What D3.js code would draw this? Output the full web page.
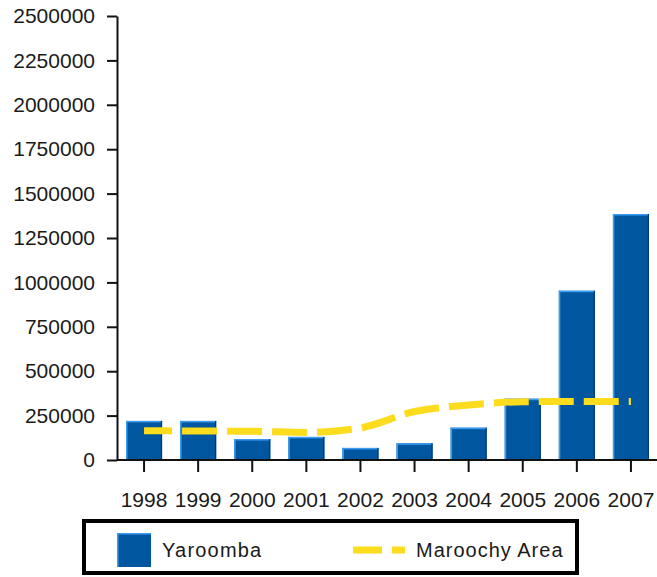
<!DOCTYPE html>
<html>
<head>
<meta charset="utf-8">
<script src="https://cdn.jsdelivr.net/npm/d3@7"></script>
<style>
  html, body { margin: 0; padding: 0; background: #fff; }
  svg { display: block; }
  text { font-family: "Liberation Sans", Arial, sans-serif; fill: #1a1a1a; }
</style>
</head>
<body>
<svg id="chart" width="657" height="577"></svg>
<script>
const years = ["1998","1999","2000","2001","2002","2003","2004","2005","2006","2007"];
const yaroomba = [220000, 220000, 118000, 130000, 68000, 94000, 182000, 345000, 953000, 1385000];
const maroochy = [165000, 163000, 162000, 155000, 180000, 273000, 310000, 328000, 330000, 330000];
const yTicks = [0, 250000, 500000, 750000, 1000000, 1250000, 1500000, 1750000, 2000000, 2250000, 2500000];
const seriesNames = ["Yaroomba", "Maroochy Area"];

const svg = d3.select("#chart");
const x = d3.scaleBand().domain(years).range([117, 658]).paddingInner(0.333).paddingOuter(0.1665);
const y = d3.scaleLinear().domain([0, 2500000]).range([460, 16]);

const barFill = "#0057a0", barLight = "#3b9cf2", barDark = "#003a70";
const lineColor = "#fcdc1c";

// bars
const bars = svg.append("g");
years.forEach((yr, i) => {
  const bx = x(yr), bw = x.bandwidth(), by = y(yaroomba[i]), bh = y(0) - y(yaroomba[i]);
  bars.append("rect").attr("x", bx).attr("y", by).attr("width", bw).attr("height", bh).attr("fill", barFill);
  bars.append("rect").attr("x", bx).attr("y", by).attr("width", 1.5).attr("height", bh).attr("fill", barLight);
  bars.append("rect").attr("x", bx).attr("y", by).attr("width", bw).attr("height", 1.5).attr("fill", barLight);
  bars.append("rect").attr("x", bx + bw - 1.2).attr("y", by).attr("width", 1.2).attr("height", bh).attr("fill", barDark);
});

// line
const line = d3.line()
  .x((d, i) => x(years[i]) + x.bandwidth() / 2)
  .y(d => y(d))
  .curve(d3.curveMonotoneX);
svg.append("path").datum(maroochy)
  .attr("d", line)
  .attr("fill", "none")
  .attr("stroke", lineColor)
  .attr("stroke-width", 7)
  .attr("stroke-dasharray", "35,10")
  .attr("stroke-dashoffset", 7);

// axes
const xAxis = svg.append("g").attr("transform", "translate(0,460)")
  .call(d3.axisBottom(x).tickSize(12).tickSizeOuter(0).tickPadding(20));
const yAxis = svg.append("g").attr("transform", "translate(117,0)")
  .call(d3.axisLeft(y).tickValues(yTicks).tickSize(10).tickSizeOuter(0).tickPadding(12).tickFormat(d3.format("d")));
[xAxis, yAxis].forEach(g => {
  g.selectAll("path, line").attr("stroke", "#111").attr("stroke-width", 2);
  g.selectAll("text").attr("font-size", 21).attr("fill", "#1a1a1a")
    .style("font-family", '"Liberation Sans", Arial, sans-serif');
});
xAxis.select(".domain").attr("d", "M117,0H658");

// legend
const lg = svg.append("g");
lg.append("rect").attr("x", 84).attr("y", 521).attr("width", 493).attr("height", 52)
  .attr("fill", "#fff").attr("stroke", "#000").attr("stroke-width", 4);
lg.append("rect").attr("x", 117).attr("y", 533).attr("width", 34).attr("height", 34).attr("fill", barFill);
lg.append("rect").attr("x", 117).attr("y", 533).attr("width", 1.5).attr("height", 34).attr("fill", barLight);
lg.append("rect").attr("x", 117).attr("y", 533).attr("width", 34).attr("height", 1.5).attr("fill", barLight);
lg.append("text").attr("x", 162).attr("y", 550).attr("dy", "0.35em")
  .attr("font-size", 20).attr("letter-spacing", 1.2).text(seriesNames[0]);
lg.append("line").attr("x1", 353).attr("x2", 405).attr("y1", 550).attr("y2", 550)
  .attr("stroke", lineColor).attr("stroke-width", 7).attr("stroke-dasharray", "29,10");
lg.append("text").attr("x", 416).attr("y", 550).attr("dy", "0.35em")
  .attr("font-size", 20).attr("letter-spacing", 1).text(seriesNames[1]);
</script>
</body>
</html>
